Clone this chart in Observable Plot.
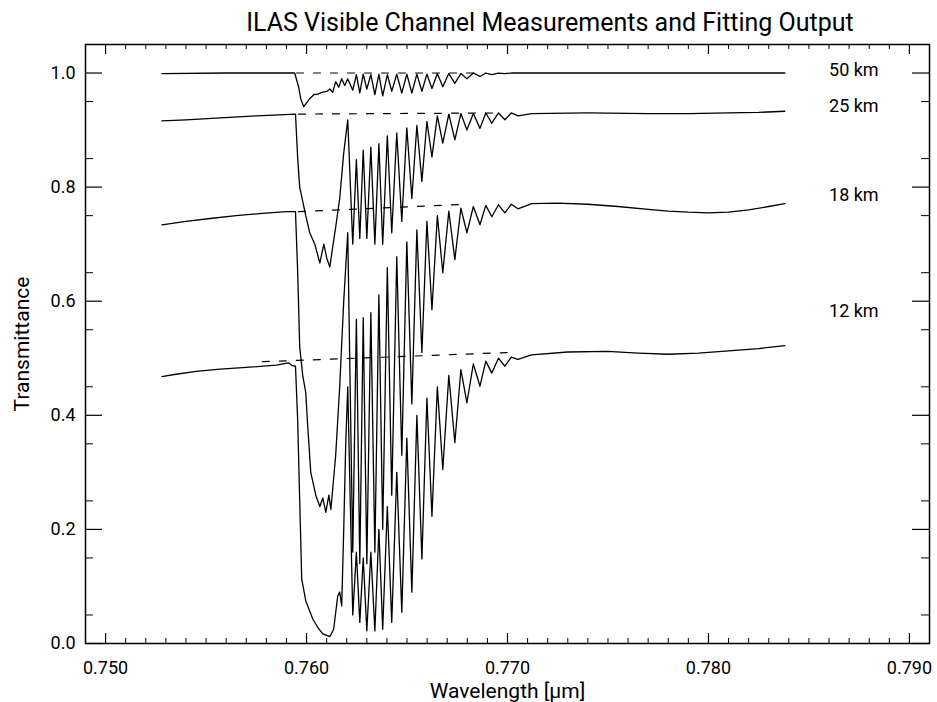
<!DOCTYPE html>
<html>
<head>
<meta charset="utf-8">
<script src="https://cdn.jsdelivr.net/npm/d3@7"></script>
<script src="https://cdn.jsdelivr.net/npm/@observablehq/plot@0.6"></script>
<style>
  body { margin: 0; background: #fff; }
  #title { width: 937px; height: 40px; box-sizing: border-box; padding-left: 163px; padding-right: 0px;
           text-align: center; font-family: Roboto, "DejaVu Sans", sans-serif; font-size: 25px; line-height: 46px; color: #000; white-space: nowrap; }
</style>
</head>
<body>
<div id="title">ILAS Visible Channel Measurements and Fitting Output</div>
<div id="chart"></div>
<script>
// ---------- tick labels ----------
const majorX = [0.750, 0.760, 0.770, 0.780, 0.790];
const majorY = [0.0, 0.2, 0.4, 0.6, 0.8, 1.0];

// ---------- altitudes ----------
const altitudes = ["50 km", "25 km", "18 km", "12 km"];

// ---------- P-branch: local maxima (between lines) and line centres ----------
const pPeakWave = [0.76205, 0.76248, 0.76282, 0.76320, 0.76360, 0.76402, 0.76449, 0.76499, 0.76549,
                   0.76599, 0.76651, 0.76708, 0.76768, 0.76830, 0.76892, 0.76955, 0.77019];
const pLineWave = [0.76230, 0.76265, 0.76300, 0.76340, 0.76379, 0.76424, 0.76474, 0.76524, 0.76574,
                   0.76624, 0.76678, 0.76738, 0.76798, 0.76863, 0.76922, 0.76987, 0.77052];

// ---------- 50 km ----------
const w50 = [0.7528, 0.7560, 0.7590, 0.75941, 0.75961, 0.75971, 0.75986, 0.76001, 0.76016, 0.76036, 0.76056,
             0.76076, 0.76101, 0.76116, 0.76130, 0.76145, 0.76160, 0.76175, 0.76190,
             0.7712, 0.7750, 0.7800, 0.7838];
const t50 = [0.999, 1.000, 1.000, 1.000, 0.975, 0.955, 0.941, 0.948, 0.955, 0.962, 0.963,
             0.966, 0.968, 0.972, 0.966, 0.985, 0.975, 0.990, 0.978,
             1.000, 1.000, 1.000, 1.000];
const peak50 = [0.990, 0.997, 0.998, 0.997, 0.998, 0.997, 0.998, 0.998, 0.998, 0.998, 0.999, 0.999, 0.999, 1.000, 1.000, 1.000, 1.000];
const line50 = [0.970, 0.965, 0.972, 0.962, 0.960, 0.968, 0.965, 0.965, 0.968, 0.973, 0.976, 0.982, 0.990, 0.994, 0.997, 0.999, 1.000];

// ---------- 25 km ----------
const w25 = [0.7528, 0.7540, 0.7555, 0.7575, 0.75945, 0.75956, 0.75966, 0.75981, 0.75996, 0.76016, 0.76041, 0.76066,
             0.76086, 0.76101, 0.76116, 0.76130, 0.76145, 0.76165, 0.76185,
             0.7712, 0.7740, 0.7770, 0.7790, 0.7810, 0.7825, 0.7838];
const t25 = [0.916, 0.918, 0.921, 0.925, 0.928, 0.850, 0.800, 0.775, 0.750, 0.720, 0.700, 0.667,
             0.700, 0.675, 0.660, 0.695, 0.730, 0.780, 0.860,
             0.929, 0.930, 0.929, 0.929, 0.930, 0.931, 0.933];
const peak25 = [0.918, 0.848, 0.865, 0.870, 0.876, 0.890, 0.895, 0.904, 0.908, 0.915, 0.925, 0.928, 0.929, 0.929, 0.930, 0.930, 0.930];
const line25 = [0.700, 0.710, 0.710, 0.700, 0.700, 0.720, 0.740, 0.780, 0.810, 0.853, 0.877, 0.883, 0.900, 0.903, 0.912, 0.918, 0.925];

// ---------- 18 km ----------
const w18 = [0.7528, 0.7540, 0.7552, 0.7565, 0.7578, 0.7590, 0.75945, 0.75956, 0.75966, 0.75981, 0.75996, 0.76006,
             0.76021, 0.76046, 0.76066, 0.76081, 0.76096, 0.76111, 0.76121, 0.76130, 0.76145, 0.76165, 0.76185,
             0.7712, 0.7725, 0.7740, 0.7755, 0.7770, 0.7780, 0.7790, 0.7800, 0.7810, 0.7820, 0.7830, 0.7838];
const t18 = [0.734, 0.740, 0.745, 0.750, 0.754, 0.757, 0.757, 0.650, 0.520, 0.470, 0.440, 0.380,
             0.300, 0.260, 0.240, 0.255, 0.230, 0.260, 0.235, 0.270, 0.330, 0.450, 0.600,
             0.771, 0.772, 0.770, 0.766, 0.761, 0.758, 0.756, 0.755, 0.756, 0.760, 0.766, 0.771];
const peak18 = [0.720, 0.568, 0.571, 0.580, 0.611, 0.659, 0.678, 0.704, 0.725, 0.740, 0.750, 0.758, 0.763, 0.766, 0.768, 0.769, 0.770];
const line18 = [0.160, 0.140, 0.140, 0.160, 0.200, 0.260, 0.330, 0.420, 0.510, 0.585, 0.650, 0.673, 0.720, 0.734, 0.748, 0.755, 0.762];

// ---------- 12 km ----------
const w12 = [0.7528, 0.7535, 0.7545, 0.7557, 0.7570, 0.7585, 0.7591, 0.7593, 0.75945, 0.75956, 0.75966, 0.75976,
             0.75996, 0.76031, 0.76056, 0.76081, 0.76116, 0.76135, 0.76155, 0.76165, 0.76175, 0.76185, 0.76195,
             0.7712, 0.7730, 0.7750, 0.7765, 0.7780, 0.7795, 0.7810, 0.7825, 0.7838];
const t12 = [0.468, 0.472, 0.477, 0.481, 0.484, 0.488, 0.492, 0.487, 0.486, 0.390, 0.250, 0.113,
             0.075, 0.043, 0.028, 0.017, 0.012, 0.025, 0.083, 0.090, 0.066, 0.200, 0.350,
             0.506, 0.511, 0.512, 0.509, 0.507, 0.509, 0.513, 0.517, 0.522];
const peak12 = [0.450, 0.160, 0.150, 0.160, 0.200, 0.240, 0.300, 0.360, 0.400, 0.430, 0.450, 0.470, 0.480, 0.490, 0.495, 0.500, 0.502];
const line12 = [0.050, 0.037, 0.022, 0.022, 0.025, 0.037, 0.055, 0.090, 0.148, 0.223, 0.305, 0.352, 0.422, 0.451, 0.474, 0.486, 0.498];

// ---------- fitted continuum (dashed) : start / end ----------
const fitWave = {"50 km": [0.7595, 0.7685], "25 km": [0.7596, 0.7695], "18 km": [0.7596, 0.7680], "12 km": [0.7578, 0.7700]};
const fitTrans = {"50 km": [1.000, 1.000], "25 km": [0.928, 0.930], "18 km": [0.757, 0.770], "12 km": [0.494, 0.510]};

// ---------- altitude label anchors ----------
const labelWave = 0.7860;
const labelTrans = [1.005, 0.941, 0.785, 0.582];

// ---------- build rows ----------
const series = {
  "50 km": [w50, t50, peak50, line50],
  "25 km": [w25, t25, peak25, line25],
  "18 km": [w18, t18, peak18, line18],
  "12 km": [w12, t12, peak12, line12]
};
const rows = [];
for (const alt of altitudes) {
  const [w, t, pk, ln] = series[alt];
  const pts = w.map((x, i) => ({alt, w: x, t: t[i]}));
  pPeakWave.forEach((x, i) => pts.push({alt, w: x, t: pk[i]}));
  pLineWave.forEach((x, i) => pts.push({alt, w: x, t: ln[i]}));
  pts.sort((a, b) => a.w - b.w);
  rows.push(...pts);
}
const fitRows = [];
for (const alt of altitudes) {
  fitWave[alt].forEach((x, i) => fitRows.push({alt, w: x, t: fitTrans[alt][i]}));
}
const labels = altitudes.map((a, i) => ({text: a, w: labelWave, t: labelTrans[i]}));

const minorX = d3.range(750, 791).map(d => d / 1000).filter(d => !majorX.some(m => Math.abs(m - d) < 1e-9));
const minorY = d3.range(1, 21, 2).map(d => d * 0.05);

const W = 937, H = 662, mT = 4, mB = 59, mL = 85, mR = 8;
const innerW = W - mL - mR, innerH = H - mT - mB;

const chart = Plot.plot({
  width: W, height: H,
  marginTop: mT, marginBottom: mB, marginLeft: mL, marginRight: mR,
  style: {fontFamily: "Roboto, 'DejaVu Sans', sans-serif", fontSize: "18px", background: "#fff", color: "#000"},
  x: {domain: [0.749, 0.791], axis: null},
  y: {domain: [0, 1.05], axis: null},
  marks: [
    Plot.line(rows, {x: "w", y: "t", z: "alt", stroke: "#000", strokeWidth: 1.3}),
    Plot.line(fitRows, {x: "w", y: "t", z: "alt", stroke: "#000", strokeWidth: 1.2, strokeDasharray: "7,10"}),
    // ticks bottom / top
    Plot.tickX(majorX, {x: d => d, insetTop: innerH - 10, stroke: "#000", strokeWidth: 1.2}),
    Plot.tickX(minorX, {x: d => d, insetTop: innerH - 5, stroke: "#000"}),
    Plot.tickX(majorX, {x: d => d, insetBottom: innerH - 10, stroke: "#000", strokeWidth: 1.2}),
    Plot.tickX(minorX, {x: d => d, insetBottom: innerH - 5, stroke: "#000"}),
    // ticks left / right
    Plot.tickY(majorY, {y: d => d, insetRight: innerW - 17, stroke: "#000", strokeWidth: 1.2}),
    Plot.tickY(minorY, {y: d => d, insetRight: innerW - 8, stroke: "#000"}),
    Plot.tickY(majorY, {y: d => d, insetLeft: innerW - 17, stroke: "#000", strokeWidth: 1.2}),
    Plot.tickY(minorY, {y: d => d, insetLeft: innerW - 8, stroke: "#000"}),
    Plot.frame({stroke: "#000", strokeWidth: 1.5}),
    // tick labels
    Plot.text(majorX, {x: d => d, frameAnchor: "bottom", lineAnchor: "middle", dy: 25, text: d => d.toFixed(3), fill: "#000"}),
    Plot.text(majorY, {y: d => d, frameAnchor: "left", lineAnchor: "middle", dx: -10, textAnchor: "end", text: d => d.toFixed(1), fill: "#000"}),
    // axis titles
    Plot.text(["Wavelength [\u03bcm]"], {frameAnchor: "bottom", lineAnchor: "middle", textAnchor: "middle", dy: 48, fontSize: 21, text: d => d, fill: "#000"}),
    Plot.text(["Transmittance"], {frameAnchor: "left", lineAnchor: "middle", textAnchor: "middle", dx: -63, rotate: -90, fontSize: 21, text: d => d, fill: "#000"}),
    // altitude labels
    Plot.text(labels, {x: "w", y: "t", text: "text", textAnchor: "start", lineAnchor: "middle", fill: "#000"})
  ]
});
document.getElementById("chart").appendChild(chart);
</script>
</body>
</html>
